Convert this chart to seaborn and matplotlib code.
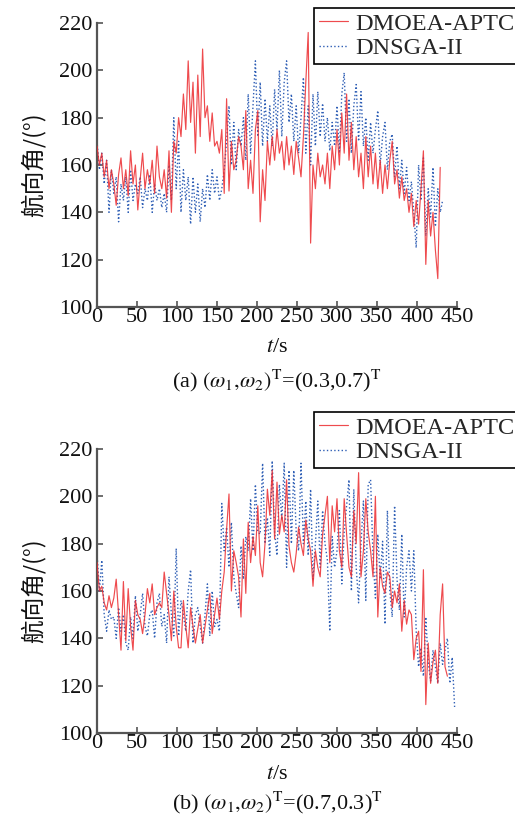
import numpy as np
import pandas as pd
import matplotlib
matplotlib.use("Agg")
import matplotlib.pyplot as plt
import seaborn as sns

# ---------------- data (heading angle, sampled every 3 s) ----------------
step = 3
series_names = ["DMOEA-APTC", "DNSGA-II"]

top_red = [
    168, 160, 165, 155, 162, 150, 158, 152, 143, 156,
    163, 150, 158, 147, 166, 152, 160, 141, 154, 165,
    150, 158, 152, 162, 148, 168, 155, 150, 158, 146,
    166, 140, 170, 165, 180, 172, 190, 175, 204, 178,
    195, 165, 198, 172, 209, 180, 185, 170, 182, 168,
    170, 165, 175, 148, 188, 149, 170, 158, 162, 172,
    168, 158, 183, 150, 162, 148, 175, 183, 136, 158,
    145, 170, 160, 172, 162, 175, 165, 170, 158, 172,
    160, 168, 156, 170, 163, 155, 172, 195, 216, 127,
    160, 150, 165, 155, 160, 152, 165, 150, 168, 158,
    175, 160, 182, 165, 190, 162, 178, 158, 172, 155,
    165, 150, 172, 155, 168, 152, 165, 150, 162, 148,
    160, 150, 162, 170, 152, 158, 146, 155, 145, 150,
    140, 148, 134, 145, 135, 150, 166, 118, 145, 130,
    140, 124, 112, 159,
]
top_blue = [
    170, 158, 165, 152, 162, 140, 158, 148, 155, 136,
    152, 145, 155, 140, 158, 145, 152, 148, 155, 142,
    150, 145, 156, 140, 152, 145, 150, 142, 148, 140,
    160, 145, 180, 150, 170, 140, 158, 145, 155, 135,
    155, 140, 152, 136, 150, 142, 156, 145, 158, 148,
    155, 145, 150, 158, 170, 185, 160, 178, 158, 175,
    168, 180, 162, 190, 165, 185, 204, 172, 195, 168,
    188, 170, 185, 168, 192, 175, 200, 172, 195, 204,
    178, 190, 170, 185, 165, 180, 197, 165, 185, 160,
    190, 168, 191, 172, 186, 170, 180, 166, 178, 168,
    185, 165, 190, 199, 170, 188, 165, 185, 194, 170,
    191, 168, 180, 162, 178, 165, 175, 183, 160, 172,
    178, 158, 170, 173, 155, 168, 150, 162, 148, 159,
    145, 153, 140, 125, 160, 145, 163, 130, 150, 138,
    159, 134, 150, 140, 145,
]
bot_red = [
    172, 160, 162, 155, 152, 158, 153, 157, 165, 150,
    135, 164, 139, 161, 145, 135, 156, 150, 148, 142,
    150, 161, 155, 163, 150, 153, 155, 153, 168, 159,
    150, 139, 160, 145, 136, 136, 156, 145, 136, 153,
    145, 138, 144, 150, 138, 145, 152, 159, 142, 150,
    157, 148, 160, 168, 186, 201, 160, 177, 172, 166,
    149, 182, 159, 189, 172, 183, 175, 196, 172, 166,
    180, 203, 192, 211, 182, 206, 184, 192, 185, 207,
    179, 172, 168, 176, 187, 180, 175, 190, 182, 177,
    162, 177, 170, 166, 184, 192, 200, 172, 196, 185,
    199, 177, 170, 199, 184, 170, 166, 194, 180, 210,
    166, 177, 199, 185, 177, 166, 200, 149, 170, 162,
    159, 168, 166, 153, 160, 155, 163, 143, 156, 146,
    152, 150, 131, 140, 143, 126, 169, 112, 138, 121,
    130, 135, 121, 150, 163, 128, 124,
]
bot_blue = [
    176, 160, 173, 150, 143, 152, 148, 149, 140, 153,
    143, 150, 138, 135, 149, 140, 158, 143, 150, 159,
    145, 141, 150, 152, 140, 155, 159, 145, 150, 138,
    166, 150, 141, 178, 141, 156, 150, 143, 160, 169,
    138, 150, 153, 145, 138, 150, 163, 141, 160, 145,
    148, 143, 197, 177, 187, 170, 189, 166, 159, 153,
    179, 165, 183, 177, 199, 177, 205, 185, 184, 214,
    180, 191, 175, 215, 185, 175, 205, 190, 214, 170,
    211, 180, 211, 185, 177, 214, 180, 198, 175, 203,
    165, 180, 198, 170, 194, 180, 173, 143, 183, 170,
    177, 194, 163, 185, 196, 207, 160, 203, 170, 155,
    180, 198, 156, 205, 207, 175, 157, 184, 165, 181,
    146, 194, 160, 149, 196, 165, 152, 184, 149, 170,
    177, 160, 177, 143, 128, 136, 124, 149, 130, 122,
    135, 128, 121, 138, 129, 135, 140, 121, 132, 111,
]

x_ticks = [0, 50, 100, 150, 200, 250, 300, 350, 400, 450]
y_ticks = [100, 120, 140, 160, 180, 200, 220]
captions = [r"(a) $(\omega_1{,}\omega_2)^{\mathrm{T}}$=(0.3,0.7)$^{\mathrm{T}}$",
            r"(b) $(\omega_1{,}\omega_2)^{\mathrm{T}}$=(0.7,0.3)$^{\mathrm{T}}$"]
xlabel = r"$t$/s"
ylabel = "航向角/(°)"

# ---------------- style ----------------
sns.set_style("ticks")
plt.rcParams["font.family"] = ["Liberation Serif", "Noto Sans CJK SC"]
plt.rcParams["mathtext.fontset"] = "stix"
plt.rcParams["axes.unicode_minus"] = False

RED = "#EC2B2F"
BLUE = "#2E5EB5"

W, H = 515, 821
fig = plt.figure(figsize=(W / 100, H / 100), dpi=100)

panels = [
    (top_red, top_blue, 23, 307, 8, 381),
    (bot_red, bot_blue, 449, 733, 412, 803),
]

for i, (red, blue, ytop, ybot, legtop, capy) in enumerate(panels):
    ax = fig.add_axes([97 / W, 1 - ybot / H, 360 / W, (ybot - ytop) / H])
    df_r = pd.DataFrame({"t": np.arange(len(red)) * step, "v": red})
    df_b = pd.DataFrame({"t": np.arange(len(blue)) * step, "v": blue})
    sns.lineplot(data=df_r, x="t", y="v", ax=ax, color=RED, lw=0.85, alpha=0.85,
                 label=series_names[0], zorder=3, estimator=None)
    sns.lineplot(data=df_b, x="t", y="v", ax=ax, color=BLUE, lw=1.0,
                 linestyle=":", label=series_names[1], zorder=2, estimator=None)
    ax.set_xlim(0, 450)
    ax.set_ylim(100, 220)
    ax.set_xticks(x_ticks)
    ax.set_yticks(y_ticks)
    for s in ["top", "right"]:
        ax.spines[s].set_visible(False)
    for s in ["left", "bottom"]:
        ax.spines[s].set_color("#555555")
        ax.spines[s].set_linewidth(1.6)
    ax.tick_params(direction="in", length=4, width=1.2, color="#555555",
                   labelsize=16, labelcolor="#111111")
    ax.tick_params(axis="x", pad=1)
    ax.tick_params(axis="y", pad=3)
    ax.set_xlabel(xlabel, fontsize=16, labelpad=8, color="#111111")
    ax.set_ylabel(ylabel, fontsize=17, family=["Noto Sans CJK SC"],
                  labelpad=10, color="#111111")
    leg = ax.legend(loc="upper left", bbox_to_anchor=(314 / W, 1 - legtop / H),
                    bbox_transform=fig.transFigure, frameon=True, fancybox=False,
                    edgecolor="black", framealpha=1, fontsize=17.5,
                    handlelength=1.2, handletextpad=0.3, borderpad=0.2,
                    labelspacing=0.1, borderaxespad=0)
    leg.get_frame().set_linewidth(1.2)
    fig.text(277 / W, 1 - capy / H, captions[i],
             ha="center", va="center", fontsize=16, color="#111111")

fig.savefig("out.png", dpi=100)
